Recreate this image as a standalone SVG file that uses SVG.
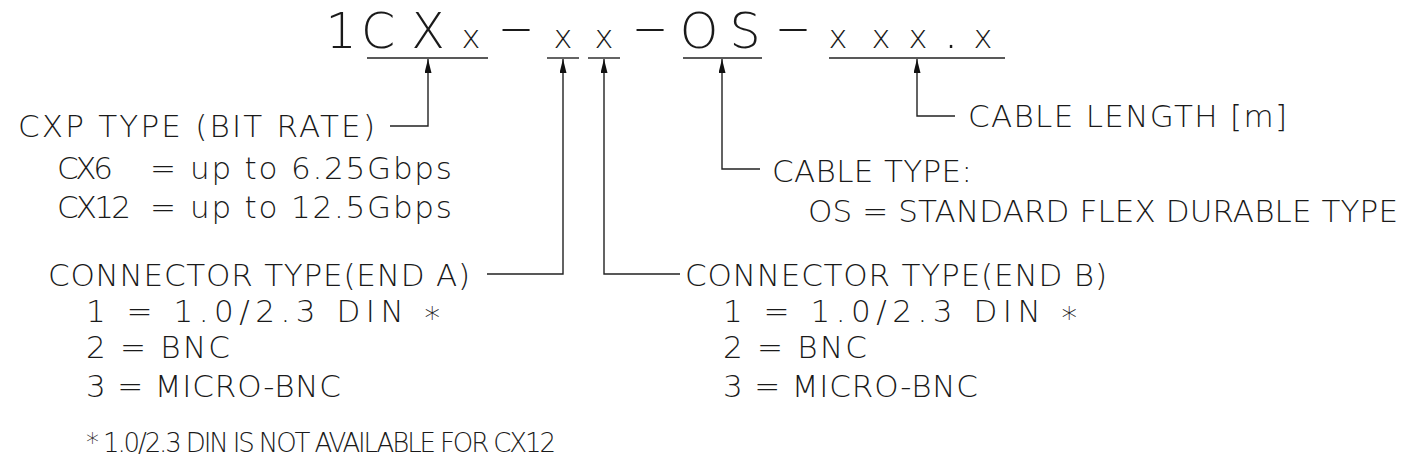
<svg xmlns="http://www.w3.org/2000/svg" width="1404" height="469" viewBox="0 0 1404 469">
<style>
text{font-family:"DejaVu Sans","Liberation Sans",sans-serif;font-weight:200;fill:#1a1a1a}
.t{font-size:31px}
.f{font-size:26px}
.h{font-size:49px}
.hx{font-size:32px}
.ln{fill:none;stroke:#222;stroke-width:1.4}
.ul{stroke:#222;stroke-width:1.4}
</style>
<defs>
<marker id="arr" viewBox="0 0 14 7" refX="14" refY="3.5" markerWidth="14" markerHeight="7" markerUnits="userSpaceOnUse" orient="auto">
<path d="M0,0 L14,3.5 L0,7 z" fill="#111"/>
</marker>
</defs>
<g id="title">
<text class="h" y="48" text-anchor="middle"><tspan x="341">1</tspan><tspan x="378">C</tspan><tspan x="428">X</tspan><tspan class="hx" x="471">x</tspan></text>
<text class="h" y="44" text-anchor="middle" transform="translate(516,0) scale(2.1,1)" x="0">-</text>
<text class="h hx" y="48" text-anchor="middle"><tspan x="563">x</tspan><tspan x="604">x</tspan></text>
<text class="h" y="44" text-anchor="middle" transform="translate(650,0) scale(2.1,1)" x="0">-</text>
<text class="h" y="48" text-anchor="middle"><tspan x="699">O</tspan><tspan x="745">S</tspan></text>
<text class="h" y="44" text-anchor="middle" transform="translate(793,0) scale(2.1,1)" x="0">-</text>
<text class="h" y="48" text-anchor="middle"><tspan class="hx" x="838">x</tspan><tspan class="hx" x="881">x</tspan><tspan class="hx" x="918">x</tspan><tspan x="951">.</tspan><tspan class="hx" x="983">x</tspan></text>
<line class="ul" x1="367" y1="58" x2="488" y2="58"/>
<line class="ul" x1="547" y1="58" x2="579" y2="58"/>
<line class="ul" x1="588" y1="58" x2="620" y2="58"/>
<line class="ul" x1="683" y1="58" x2="762" y2="58"/>
<line class="ul" x1="829" y1="58" x2="1005" y2="58"/>
</g>
<g id="cxp-type">
<text class="t" x="18" y="137" textLength="357" lengthAdjust="spacing">CXP TYPE (BIT RATE)</text>
<text class="t" y="179"><tspan x="57" textLength="56" lengthAdjust="spacing">CX6</tspan><tspan x="150">=</tspan><tspan x="190" textLength="262" lengthAdjust="spacing">up to 6.25Gbps</tspan></text>
<text class="t" y="218"><tspan x="57" textLength="74" lengthAdjust="spacing">CX12</tspan><tspan x="150">=</tspan><tspan x="190" textLength="262" lengthAdjust="spacing">up to 12.5Gbps</tspan></text>
</g>
<g id="cable-length">
<text class="t" x="968" y="127" textLength="319" lengthAdjust="spacing">CABLE LENGTH [m]</text>
</g>
<g id="cable-type">
<text class="t" x="772" y="182" textLength="200" lengthAdjust="spacing">CABLE TYPE:</text>
<text class="t" x="808" y="222" textLength="590" lengthAdjust="spacing">OS = STANDARD FLEX DURABLE TYPE</text>
</g>
<g id="connector-a">
<text class="t" x="48" y="286" textLength="422" lengthAdjust="spacing">CONNECTOR TYPE(END A)</text>
<text class="t" x="86" y="322" textLength="354" lengthAdjust="spacing">1 = 1.0/2.3 DIN <tspan dy="6">*</tspan></text>
<text class="t" x="86" y="358" textLength="144" lengthAdjust="spacing">2 = BNC</text>
<text class="t" x="86" y="397" textLength="255" lengthAdjust="spacing">3 = MICRO-BNC</text>
</g>
<g id="connector-b">
<text class="t" x="685" y="286" textLength="422" lengthAdjust="spacing">CONNECTOR TYPE(END B)</text>
<text class="t" x="723" y="322" textLength="354" lengthAdjust="spacing">1 = 1.0/2.3 DIN <tspan dy="6">*</tspan></text>
<text class="t" x="723" y="358" textLength="144" lengthAdjust="spacing">2 = BNC</text>
<text class="t" x="723" y="397" textLength="255" lengthAdjust="spacing">3 = MICRO-BNC</text>
</g>
<g id="footnote">
<text class="f" x="86" y="452" textLength="470" lengthAdjust="spacing">* 1.0/2.3 DIN IS NOT AVAILABLE FOR CX12</text>
</g>
<g id="connectors">
<path class="ln" d="M390,126 H428 V59" marker-end="url(#arr)"/>
<path class="ln" d="M487,274 H563 V59" marker-end="url(#arr)"/>
<path class="ln" d="M680,274 H604 V59" marker-end="url(#arr)"/>
<path class="ln" d="M760,169 H722 V59" marker-end="url(#arr)"/>
<path class="ln" d="M955,116 H917 V59" marker-end="url(#arr)"/>
</g>
</svg>
